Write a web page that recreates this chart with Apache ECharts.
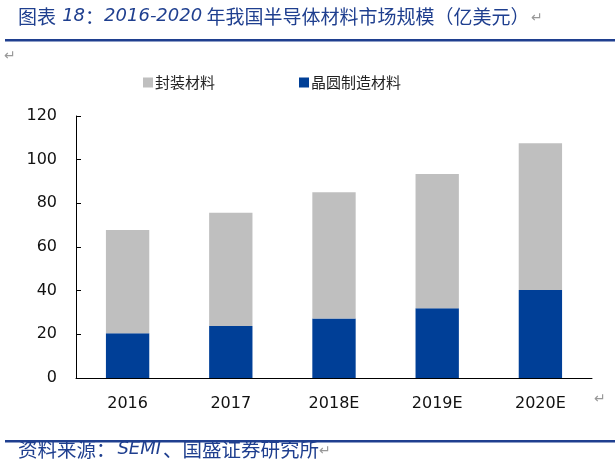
<!DOCTYPE html>
<html>
<head>
<meta charset="utf-8">
<script src="https://cdn.jsdelivr.net/npm/echarts@6/dist/echarts.min.js"></script>
<style>
  html, body { margin: 0; padding: 0; background: #fff; }
  #chart { width: 615px; height: 474px; }
</style>
</head>
<body>
<div id="chart"></div>
<script>
// 年份
var years = ["2016", "2017", "2018E", "2019E", "2020E"];
// 晶圆制造材料（亿美元）
var waferValues = [20.5, 23.8, 27.3, 31.9, 40.3];
// 封装材料（亿美元）
var packageValues = [47.3, 51.9, 57.8, 61.5, 67.2];
var yTicks = [0, 20, 40, 60, 80, 100, 120];

var navy = "#1f3f8f";
var cjk = "'Noto Sans CJK SC', 'Microsoft YaHei', sans-serif";
var latin = "'DejaVu Sans', Verdana, sans-serif";

var chart = echarts.init(document.getElementById("chart"));

chart.setOption({
	backgroundColor: "#fff",
	animation: false,
	legend: {
		top: 70,
		left: 138,
		itemGap: 84,
		itemWidth: 10,
		itemHeight: 10,
		icon: "rect",
		textStyle: { fontFamily: cjk, fontSize: 15, color: "#222", padding: [0, 0, 0, -3] },
		data: ["封装材料", "晶圆制造材料"]
	},
	grid: { left: 76, right: 23, top: 116, bottom: 96 },
	xAxis: {
		type: "category",
		data: years,
		axisLine: { lineStyle: { color: "#000", width: 1 } },
		axisTick: { inside: true, length: 5, lineStyle: { color: "#000" } },
		axisLabel: { fontFamily: latin, fontSize: 16, color: "#111", margin: 18 }
	},
	yAxis: {
		type: "value",
		min: yTicks[0],
		max: yTicks[yTicks.length - 1],
		interval: 20,
		splitLine: { show: false },
		axisLine: { show: true, lineStyle: { color: "#000", width: 1 } },
		axisTick: { show: true, inside: true, length: 5, lineStyle: { color: "#000" } },
		axisLabel: { fontFamily: latin, fontSize: 16, color: "#111", margin: 19 }
	},
	series: [
		{
			name: "晶圆制造材料",
			type: "bar",
			stack: "total",
			barWidth: "42%",
			itemStyle: { color: "#003f97" },
			data: waferValues
		},
		{
			name: "封装材料",
			type: "bar",
			stack: "total",
			barWidth: "42%",
			itemStyle: { color: "#bfbfbf" },
			data: packageValues
		}
	],
	graphic: [
		{
			type: "text", left: 18, top: 7,
			style: {
				text: "{n|图表 }{s| }{i|18}{n|：}{i|2016-2020}{n| 年我国半导体材料市场规模（亿美元）}{s| }{m|↵}",
				rich: {
					n: { fontFamily: cjk, fontSize: 19, lineHeight: 24, verticalAlign: "middle", fill: navy },
					s: { fontFamily: latin, fontSize: 6, lineHeight: 24, verticalAlign: "middle" },
					i: { fontFamily: latin, fontSize: 18, lineHeight: 24, verticalAlign: "middle", fontStyle: "italic", fill: navy },
					m: { fontFamily: cjk, fontSize: 14, lineHeight: 24, verticalAlign: "middle", fill: "#999" }
				}
			}
		},
		{ type: "rect", shape: { x: 5, y: 39, width: 610, height: 2.5 }, style: { fill: navy } },
		{ type: "text", left: 4, top: 48, style: { text: "↵", fontFamily: cjk, fontSize: 14, fill: "#999" } },
		{ type: "text", left: 594, top: 391, style: { text: "↵", fontFamily: cjk, fontSize: 14, fill: "#999" } },
		{ type: "rect", shape: { x: 5, y: 440, width: 610, height: 2.5 }, style: { fill: navy } },
		{
			type: "text", left: 18, top: 440,
			style: {
				text: "{n|资料来源：}{s| }{i|SEMI}{s| }{n|、国盛证券研究所}{m|↵}",
				rich: {
					n: { fontFamily: cjk, fontSize: 19.5, lineHeight: 24, verticalAlign: "middle", fill: navy },
					s: { fontFamily: latin, fontSize: 6, lineHeight: 24, verticalAlign: "middle" },
					i: { fontFamily: latin, fontSize: 18, lineHeight: 24, verticalAlign: "middle", fontStyle: "italic", fill: navy },
					m: { fontFamily: cjk, fontSize: 14, lineHeight: 24, verticalAlign: "middle", fill: "#999" }
				}
			}
		}
	]
});
</script>
</body>
</html>
